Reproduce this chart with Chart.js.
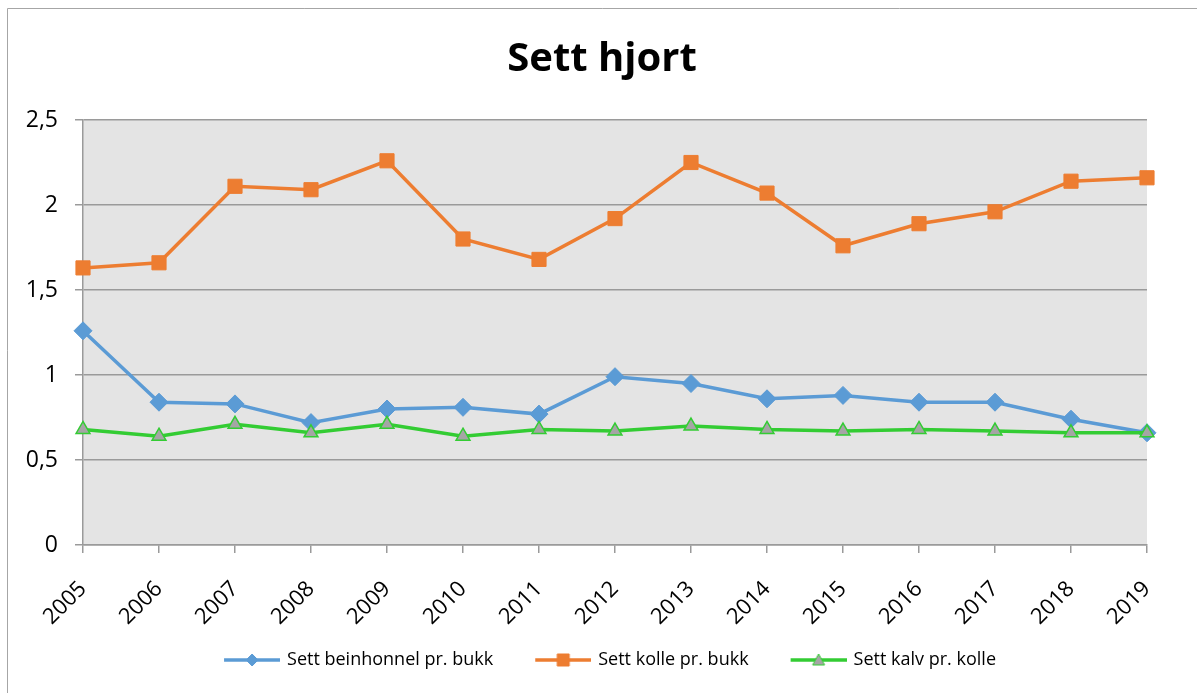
<!DOCTYPE html>
<html>
<head>
<meta charset="utf-8">
<title>Sett hjort</title>
<script src="https://cdn.jsdelivr.net/npm/chart.js"></script>
<style>
    html, body { margin: 0; padding: 0; background: #fff; }
    #wrap { width: 1197px; height: 693px; }
</style>
</head>
<body>
<div id="wrap"><canvas id="hjortChart" width="1197" height="693"></canvas></div>
<script>
var years = ['2005', '2006', '2007', '2008', '2009', '2010', '2011', '2012', '2013', '2014', '2015', '2016', '2017', '2018', '2019'];
var beinhonnel = [1.26, 0.84, 0.83, 0.72, 0.80, 0.81, 0.77, 0.99, 0.95, 0.86, 0.88, 0.84, 0.84, 0.74, 0.66];
var kolle = [1.63, 1.66, 2.11, 2.09, 2.26, 1.80, 1.68, 1.92, 2.25, 2.07, 1.76, 1.89, 1.96, 2.14, 2.16];
var kalv = [0.68, 0.64, 0.71, 0.66, 0.71, 0.64, 0.68, 0.67, 0.70, 0.68, 0.67, 0.68, 0.67, 0.66, 0.66];
var yTicks = [0, 0.5, 1, 1.5, 2, 2.5];

var BLUE = '#5b9bd5';
var ORANGE = '#ed7d31';
var GREEN = '#33cc33';
var GREY_FILL = '#a5a5a5';
var FONT = "'Open Sans', 'DejaVu Sans', sans-serif";

// line + marker pictures for the legend; the blank left part makes the gap between items
function makeIcon(lineColor, shape, fill, stroke) {
    var c = document.createElement('canvas');
    c.width = 74;
    c.height = 16;
    var g = c.getContext('2d');
    var x0 = 18, x1 = 74, mx = 46;
    g.strokeStyle = lineColor;
    g.lineWidth = 3.5;
    g.beginPath();
    g.moveTo(x0, 8);
    g.lineTo(x1, 8);
    g.stroke();
    g.fillStyle = fill;
    g.strokeStyle = stroke;
    g.lineWidth = 1;
    g.beginPath();
    if (shape === 'diamond') {
        g.moveTo(mx, 2); g.lineTo(mx + 6, 8); g.lineTo(mx, 14); g.lineTo(mx - 6, 8); g.closePath();
    } else if (shape === 'square') {
        g.rect(mx - 6, 2, 12, 12);
    } else {
        g.moveTo(mx, 2); g.lineTo(mx + 6, 13); g.lineTo(mx - 6, 13); g.closePath();
    }
    g.fill();
    g.stroke();
    return c;
}

var legendIcons = [
    makeIcon(BLUE, 'diamond', BLUE, BLUE),
    makeIcon(ORANGE, 'square', ORANGE, ORANGE),
    makeIcon(GREEN, 'triangle', GREY_FILL, GREEN)
];

// grey plot area and the thin frame round the chart
var plotBackground = {
    id: 'plotBackground',
    beforeDraw: function (chart) {
        var ctx = chart.ctx;
        var a = chart.chartArea;
        ctx.save();
        ctx.fillStyle = '#e4e4e4';
        ctx.fillRect(a.left, a.top, a.right - a.left, a.bottom - a.top);
        ctx.strokeStyle = '#a6a6a6';
        ctx.lineWidth = 1;
        ctx.beginPath();
        ctx.moveTo(7.5, chart.height);
        ctx.lineTo(7.5, 8.5);
        ctx.lineTo(chart.width, 8.5);
        ctx.stroke();
        ctx.restore();
    }
};

var ctx = document.getElementById('hjortChart').getContext('2d');
new Chart(ctx, {
    type: 'line',
    data: {
        labels: years,
        datasets: [{
            label: 'Sett beinhonnel pr. bukk',
            data: beinhonnel,
            borderColor: BLUE,
            backgroundColor: BLUE,
            pointBackgroundColor: BLUE,
            pointBorderColor: BLUE,
            pointStyle: 'rectRot',
            pointRadius: 9,
            pointBorderWidth: 1,
            borderWidth: 3.5,
            tension: 0,
            order: 3
        }, {
            label: 'Sett kolle pr. bukk',
            data: kolle,
            borderColor: ORANGE,
            backgroundColor: ORANGE,
            pointBackgroundColor: ORANGE,
            pointBorderColor: ORANGE,
            pointStyle: 'rect',
            pointRadius: 10,
            pointBorderWidth: 1,
            borderWidth: 3.5,
            tension: 0,
            order: 2
        }, {
            label: 'Sett kalv pr. kolle',
            data: kalv,
            borderColor: GREEN,
            backgroundColor: GREY_FILL,
            pointBackgroundColor: GREY_FILL,
            pointBorderColor: GREEN,
            pointStyle: 'triangle',
            pointRadius: 8,
            pointBorderWidth: 1.5,
            borderWidth: 3.5,
            tension: 0,
            order: 1
        }]
    },
    options: {
        responsive: false,
        animation: false,
        layout: {
            padding: { left: 10, right: 3, top: 0, bottom: 14 }
        },
        plugins: {
            title: {
                display: true,
                text: 'Sett hjort',
                color: '#000',
                font: { family: FONT, size: 40, weight: 'bold' },
                padding: { top: 36, bottom: 36 }
            },
            legend: {
                position: 'bottom',
                labels: {
                    usePointStyle: true,
                    pointStyleWidth: 70,
                    padding: 26,
                    color: '#000',
                    font: { family: FONT, size: 18 },
                    generateLabels: function (chart) {
                        return chart.data.datasets.map(function (ds, i) {
                            return {
                                text: ds.label,
                                pointStyle: legendIcons[i],
                                datasetIndex: i,
                                fontColor: '#000',
                                fillStyle: 'transparent',
                                strokeStyle: 'transparent',
                                lineWidth: 0,
                                hidden: false
                            };
                        });
                    }
                }
            },
            tooltip: { enabled: false }
        },
        scales: {
            x: {
                offset: false,
                grid: {
                    drawOnChartArea: false,
                    drawTicks: true,
                    tickLength: 8,
                    color: '#9a9a9a',
                    lineWidth: 1.5
                },
                border: { color: '#9a9a9a', width: 1.5 },
                ticks: {
                    autoSkip: false,
                    minRotation: 45,
                    maxRotation: 45,
                    padding: 23,
                    color: '#000',
                    font: { family: FONT, size: 22 }
                },
                afterFit: function (axis) { axis.height = 80; }
            },
            y: {
                min: 0,
                max: 2.5,
                grid: {
                    color: '#9a9a9a',
                    lineWidth: 1.5,
                    tickLength: 8
                },
                border: { color: '#9a9a9a', width: 1.5 },
                ticks: {
                    padding: 17,
                    color: '#000',
                    font: { family: FONT, size: 23 },
                    callback: function (v) { return String(v).replace('.', ','); }
                },
                afterBuildTicks: function (axis) {
                    axis.ticks = yTicks.map(function (v) { return { value: v }; });
                },
                afterFit: function (axis) { axis.width = 73; }
            },
            // empty space on the right so title and legend sit in the middle of the frame
            spacer: {
                type: 'linear',
                position: 'right',
                grid: { drawOnChartArea: false, drawTicks: false },
                border: { display: false },
                ticks: { display: false },
                afterFit: function (axis) { axis.width = 47; }
            }
        }
    },
    plugins: [plotBackground]
});
</script>
</body>
</html>
